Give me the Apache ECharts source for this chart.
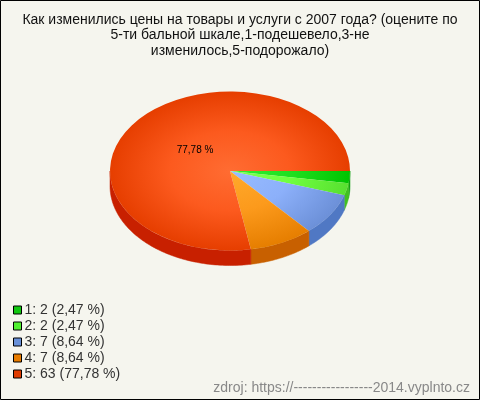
<!DOCTYPE html>
<html><head><meta charset="utf-8">
<style>html,body{margin:0;padding:0;background:#f5f5ee}#c{width:480px;height:400px}</style>
<script src="https://cdn.jsdelivr.net/npm/echarts@6/dist/echarts.min.js"></script>
</head><body><div id="c"></div>
<script>
var categories = ['1', '2', '3', '4', '5'];
var counts = [2, 2, 7, 7, 63];
var percentLabels = ['2,47', '2,47', '8,64', '8,64', '77,78'];
var legendColors = ['#10c810', '#50f030', '#6890d8', '#e87c00', '#e03c00'];
var centerColors = ['#30f030', '#80ff50', '#98bcff', '#ffaa2c', '#ff6c32'];
var midColors = ['#20e020', '#70ff40', '#8cb0fa', '#fc9a1c', '#fc5a1e'];
var edgeColors = ['#00c400', '#58e030', '#6c90d8', '#e67e00', '#e63e00'];
var wallColors = ['#10a010', '#40c020', '#5078c4', '#c86000', '#c82000'];
var titleLines = ['Как изменились цены на товары и услуги с 2007 года? (оцените по', '5-ти бальной шкале,1-подешевело,3-не', 'изменилось,5-подорожало)'];
var sourceText = 'zdroj: https://-----------------2014.vyplnto.cz';

var CX = 230, CY = 171, RX = 120, RY = 79.5, DEPTH = 15;
var total = counts.reduce(function (a, b) { return a + b; }, 0);

function wallPoints(a0, a1) {
  var from = Math.max(a0, 0), to = Math.min(a1, Math.PI);
  if (to <= from) return null;
  var top = [], bot = [], n = Math.max(2, Math.ceil((to - from) / 0.02));
  for (var i = 0; i <= n; i++) {
    var a = from + (to - from) * i / n;
    var x = CX + RX * Math.cos(a), y = CY + RY * Math.sin(a);
    top.push([x, y]);
    bot.unshift([x, y + DEPTH]);
  }
  return top.concat(bot);
}

function makeRender(idx) {
  return function (params, api) {
    var before = 0;
    for (var i = 0; i < idx; i++) before += counts[i];
    var a0 = before / total * Math.PI * 2;
    var a1 = (before + api.value(0)) / total * Math.PI * 2;
    var children = [];
    var wall = wallPoints(a0, a1);
    if (wall) children.push({ type: 'polygon', shape: { points: wall }, style: { fill: wallColors[idx], stroke: wallColors[idx], lineWidth: 0.5 } });
    children.push({
      type: 'sector',
      shape: { cx: CX, cy: CY, r: RX, r0: 0, startAngle: a0, endAngle: a1, clockwise: true },
      originX: CX, originY: CY, scaleY: RY / RX,
      style: {
        fill: { type: 'radial', x: CX, y: CY, r: RX, global: true, colorStops: [
          { offset: 0, color: centerColors[idx] },
          { offset: 0.5, color: midColors[idx] },
          { offset: 1, color: edgeColors[idx] }] }
      }
    });
    if (counts[idx] / total > 0.5) {
      var mid = (a0 + a1) / 2;
      children.push({
        type: 'text',
        style: {
          x: CX + RX * 0.38 * Math.cos(mid), y: CY + RY * 0.38 * Math.sin(mid) - 1,
          text: percentLabels[idx] + ' %', fill: '#000', align: 'center', verticalAlign: 'middle',
          font: '10px "Liberation Sans", Arial, sans-serif'
        }
      });
    }
    return { type: 'group', children: children };
  };
}

var chart = echarts.init(document.getElementById('c'), null, { renderer: 'canvas' });
var font = '"Liberation Sans", Arial, sans-serif';
chart.setOption({
  animation: false,
  backgroundColor: '#f5f5ee',
  legend: {
    orient: 'vertical', left: 8, top: 297, itemWidth: 8, itemHeight: 8, itemGap: 0,
    icon: 'rect', selectedMode: false,
    itemStyle: { borderColor: '#000', borderWidth: 1 },
    textStyle: { fontFamily: font, fontSize: 14, color: '#333', lineHeight: 16, padding: [0, 0, 0, -2] }
  },
  graphic: [
    { type: 'rect', z: 100, silent: true, shape: { x: 0.5, y: 0.5, width: 479, height: 399 }, style: { fill: 'none', stroke: '#000', lineWidth: 1 } },
    { type: 'text', z: 100, style: { x: 240, y: 12, text: titleLines.join('\n'), align: 'center', fill: '#111', font: '14px ' + font, lineHeight: 15.5 } },
    { type: 'text', z: 100, style: { x: 470, y: 381, text: sourceText, align: 'right', fill: '#888', font: '14px ' + font } }
  ],
  series: categories.map(function (c, i) {
    return {
      type: 'custom', coordinateSystem: 'none', silent: true,
      name: c + ': ' + counts[i] + ' (' + percentLabels[i] + ' %)',
      itemStyle: { color: legendColors[i] },
      data: [[counts[i]]],
      renderItem: makeRender(i)
    };
  })
});
</script></body></html>
